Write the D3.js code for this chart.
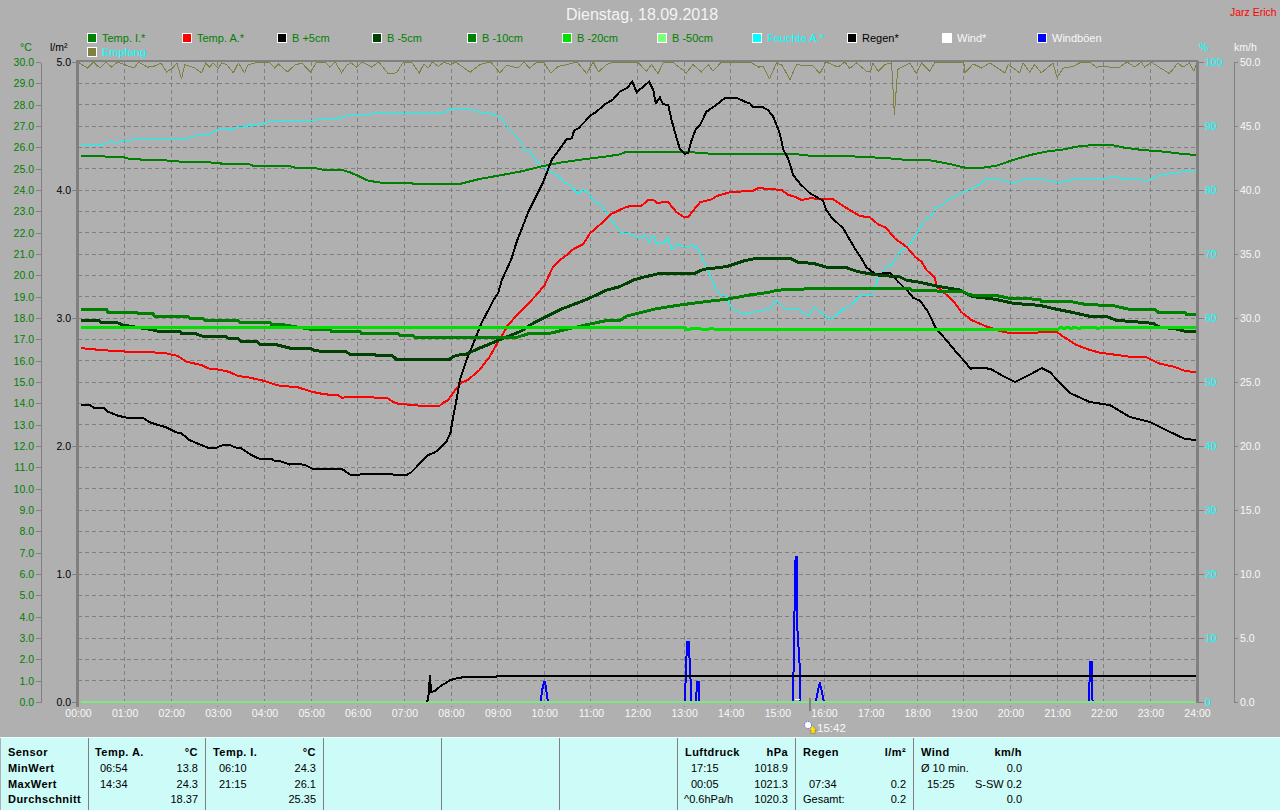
<!DOCTYPE html>
<html><head><meta charset="utf-8"><title>Wetter 18.09.2018</title>
<script src="https://cdn.jsdelivr.net/npm/d3@7/dist/d3.min.js"></script>
<style>html,body{margin:0;padding:0;background:#b0b0b0;overflow:hidden}svg{display:block}text{font-family:"Liberation Sans",Arial,sans-serif}</style>
</head><body><svg id="c" width="1280" height="810"></svg>
<script>
// ---------- data: [hour, value] ----------
const titleText = "Dienstag, 18.09.2018";
const authorText = "Jarz Erich";
const hourLabels = ["00:00","01:00","02:00","03:00","04:00","05:00","06:00","07:00","08:00","09:00","10:00","11:00","12:00","13:00","14:00","15:00","16:00","17:00","18:00","19:00","20:00","21:00","22:00","23:00","24:00"];
const legendNames = ["Temp. I.*","Temp. A.*","B +5cm","B -5cm","B -10cm","B -20cm","B -50cm","Feuchte A.*","Regen*","Wind*","Windböen"];
const sunsetTime = 15.7;
const sunsetLabel = "15:42";

const tempI = [[.07,25.59],[.57,25.59],[.59,25.55],[.96,25.55],[1.11,25.45],[1.32,25.45],[1.36,25.41],[1.89,25.41],[1.93,25.36],[2.14,25.36],[2.18,25.33],[2.82,25.33],[2.86,25.28],[3.06,25.28],[3.07,25.23],[3.65,25.23],[3.75,25.14],[4.5,25.14],[4.65,25.05],[5.04,25.05],[5.25,24.95],[5.65,24.95],[5.83,24.83],[5.97,24.7],[6.22,24.44],[6.5,24.34],[7.15,24.34],[7.18,24.3],[8.22,24.3],[8.62,24.52],[9.01,24.67],[9.48,24.86],[9.91,25.09],[10.34,25.28],[10.84,25.44],[11.3,25.56],[11.62,25.67],[11.77,25.8],[13.48,25.75],[13.52,25.7],[15.2,25.7],[15.63,25.64],[15.7,25.59],[16.34,25.59],[16.84,25.56],[17.48,25.47],[17.77,25.41],[18.23,25.41],[18.7,25.22],[19.02,25.05],[19.42,25.05],[19.7,25.14],[20.06,25.41],[20.42,25.64],[20.84,25.83],[21.09,25.88],[21.41,26.03],[21.77,26.11],[22.17,26.11],[22.45,25.98],[22.81,25.88],[23.28,25.8],[23.7,25.69],[24,25.64]];

const tempA = [[.07,16.59],[.18,16.56],[.39,16.52],[.68,16.47],[.96,16.45],[1.07,16.39],[1.82,16.38],[1.97,16.3],[2.14,16.22],[2.32,15.95],[2.64,15.8],[2.82,15.62],[3,15.59],[3.25,15.47],[3.43,15.28],[3.65,15.22],[4,15.05],[4.29,14.84],[4.72,14.75],[5,14.55],[5.29,14.42],[5.58,14.39],[5.65,14.27],[6.15,14.3],[6.65,14.23],[6.75,14.08],[6.9,13.95],[7.04,13.95],[7.33,13.89],[7.76,13.89],[7.83,14.03],[7.93,14.13],[8.08,14.59],[8.22,14.98],[8.36,15.09],[8.61,15.56],[8.83,16.19],[8.99,16.81],[9.1,17.2],[9.22,17.67],[9.55,18.45],[9.8,19],[10.01,19.55],[10.19,20.41],[10.34,20.72],[10.51,21],[10.62,21.22],[10.84,21.47],[10.98,21.97],[11.27,22.52],[11.44,22.88],[11.77,23.22],[12.09,23.27],[12.23,23.53],[12.34,23.53],[12.41,23.41],[12.66,23.42],[12.84,22.95],[12.98,22.75],[13.09,22.75],[13.34,23.42],[13.59,23.56],[13.7,23.72],[13.98,23.89],[14.48,23.97],[14.59,24.09],[15.09,24],[15.23,23.77],[15.37,23.69],[15.52,23.53],[15.7,23.61],[15.98,23.58],[16.2,23.56],[16.41,23.25],[16.77,22.78],[16.98,22.72],[17.16,22.39],[17.33,22.23],[17.52,21.73],[17.77,21.34],[17.95,20.88],[18.09,20.64],[18.2,20.25],[18.38,19.86],[18.42,19.47],[18.63,19.08],[18.81,18.69],[18.95,18.27],[19.16,17.91],[19.45,17.63],[19.77,17.39],[20.02,17.28],[20.49,17.28],[20.7,17.36],[20.99,17.36],[21.13,17.13],[21.42,16.73],[21.7,16.5],[21.91,16.38],[22.27,16.27],[22.63,16.16],[22.92,16.16],[23.17,15.88],[23.53,15.7],[23.74,15.52],[24,15.45]];

const soilPlus5 = [[.07,13.92],[.25,13.92],[.34,13.8],[.56,13.8],[.64,13.61],[.86,13.42],[1.04,13.33],[1.39,13.33],[1.54,13.11],[1.72,12.98],[1.89,12.88],[2.11,12.64],[2.22,12.59],[2.39,12.28],[2.57,12.11],[2.79,11.92],[2.97,11.92],[3.07,12.02],[3.25,12.06],[3.36,11.94],[3.5,11.89],[3.72,11.58],[3.9,11.39],[4.15,11.39],[4.22,11.3],[4.36,11.27],[4.54,11.13],[4.75,11.16],[4.9,11.08],[5.02,10.94],[5.65,10.94],[5.86,10.63],[6,10.63],[6.11,10.7],[6.72,10.7],[6.79,10.63],[7.04,10.63],[7.15,10.77],[7.51,11.58],[7.65,11.69],[7.76,11.89],[7.9,12.2],[7.99,12.63],[8.04,13.3],[8.11,14.08],[8.19,15.09],[8.33,16.03],[8.51,16.97],[8.65,17.75],[8.82,18.45],[8.91,18.84],[9.01,19.16],[9.09,19.78],[9.19,20.25],[9.3,20.8],[9.41,21.58],[9.48,21.97],[9.66,22.98],[9.84,23.77],[9.98,24.39],[10.16,25.41],[10.34,25.95],[10.48,26.38],[10.59,26.42],[10.64,26.78],[10.73,26.89],[10.87,27.2],[10.98,27.47],[11.12,27.67],[11.3,28.02],[11.48,28.25],[11.62,28.61],[11.77,28.77],[11.89,29.08],[11.98,28.58],[12.25,29.08],[12.34,28.69],[12.39,28.06],[12.48,28.34],[12.55,28.02],[12.66,27.98],[12.73,27.28],[12.84,26.42],[12.91,25.92],[13.02,25.69],[13.09,25.75],[13.16,26.34],[13.25,26.84],[13.34,27.05],[13.48,27.67],[13.66,27.94],[13.87,28.3],[14.12,28.33],[14.3,28.14],[14.41,28.06],[14.47,27.91],[14.66,27.91],[14.8,27.75],[14.91,27.44],[15.05,26.66],[15.13,25.88],[15.23,25.48],[15.34,24.7],[15.48,24.31],[15.7,23.84],[15.98,23.5],[16.05,23.06],[16.16,22.72],[16.41,22.2],[16.66,21.27],[16.8,20.8],[16.91,20.38],[17.13,20.02],[17.31,20.13],[17.41,20.13],[17.59,19.7],[17.81,19.23],[17.91,18.95],[18.06,18.81],[18.23,18.3],[18.41,17.47],[18.59,17.05],[18.77,16.58],[18.84,16.38],[18.99,16.03],[19.14,15.63],[19.45,15.66],[19.59,15.59],[19.8,15.33],[20.1,15],[20.4,15.33],[20.67,15.65],[20.85,15.45],[21,15.1],[21.27,14.49],[21.7,14.06],[22.13,13.92],[22.56,13.36],[22.99,13.13],[23.42,12.66],[23.74,12.33],[24,12.28]];

const soilMinus5 = [[.07,17.89],[.43,17.89],[.5,17.8],[.82,17.8],[.96,17.67],[1.54,17.47],[1.72,17.38],[2.18,17.38],[2.22,17.28],[2.5,17.28],[2.72,17.11],[3.18,17.11],[3.25,17.02],[3.43,17.02],[3.5,16.91],[3.82,16.91],[3.9,16.77],[4.22,16.77],[4.36,16.69],[4.54,16.59],[5,16.58],[5.04,16.5],[5.29,16.41],[5.75,16.41],[5.83,16.31],[6.36,16.31],[6.4,16.22],[6.75,16.22],[6.83,16.06],[7.97,16.06],[8.04,16.19],[8.18,16.27],[8.33,16.31],[8.58,16.56],[8.83,16.78],[8.99,16.93],[9.48,17.36],[9.76,17.75],[10.37,18.42],[10.84,18.81],[11.12,19.08],[11.34,19.31],[11.62,19.47],[11.91,19.78],[12.12,19.91],[12.48,20.09],[13.23,20.09],[13.41,20.28],[13.91,20.41],[14.3,20.69],[14.55,20.8],[15.27,20.8],[15.45,20.61],[15.77,20.56],[16.05,20.39],[16.45,20.38],[16.73,20.17],[17.13,20.02],[17.63,19.92],[17.77,19.77],[18.06,19.67],[18.41,19.5],[18.91,19.31],[19.2,19],[19.67,18.88],[20.06,18.69],[20.63,18.59],[20.99,18.41],[21.31,18.27],[21.7,18.08],[22.09,18.05],[22.27,17.89],[22.63,17.83],[23.06,17.75],[23.17,17.59],[23.56,17.48],[23.74,17.38],[24,17.38]];

const soilMinus10 = [[.07,18.41],[.61,18.41],[.64,18.28],[1.25,18.28],[1.29,18.19],[1.61,18.19],[1.64,18.09],[2.36,18.09],[2.39,18],[2.68,18],[2.72,17.89],[3.43,17.89],[3.47,17.8],[4.11,17.8],[4.15,17.7],[4.36,17.7],[5,17.47],[5.4,17.47],[5.43,17.38],[6.04,17.38],[6.08,17.28],[6.86,17.28],[6.9,17.2],[7.18,17.2],[7.23,17.08],[9.41,17.09],[9.69,17.28],[10.12,17.28],[10.48,17.47],[10.98,17.72],[11.34,17.88],[11.62,17.88],[11.77,18.09],[12.37,18.42],[12.91,18.61],[13.48,18.77],[13.91,18.88],[14.41,19.08],[14.8,19.2],[15.02,19.31],[15.48,19.33],[15.66,19.39],[17.84,19.39],[17.88,19.3],[18.99,19.23],[19.13,19.08],[19.7,19.05],[19.99,18.92],[20.63,18.88],[20.66,18.78],[21.27,18.78],[21.63,18.63],[22.2,18.58],[22.52,18.42],[23.09,18.42],[23.17,18.27],[23.74,18.27],[23.77,18.17],[24,18.17]];

const soilMinus20 = [[.07,17.57],[13.02,17.57],[13.05,17.47],[13.12,17.47],[13.17,17.53],[13.3,17.53],[13.38,17.47],[13.5,17.47],[13.58,17.5],[13.68,17.47],[21.02,17.47],[21.07,17.57],[21.15,17.5],[21.22,17.57],[21.3,17.5],[21.38,17.57],[21.46,17.5],[21.55,17.57],[21.8,17.57],[21.88,17.5],[21.98,17.57],[24,17.57]];

const soilMinus50 = [[.07,0],[24,0]];

const humidity = [[.07,86.92],[.5,86.92],[.61,87.39],[.71,87.6],[.82,87.39],[.93,87.6],[1.07,87.76],[1.29,87.91],[2.32,87.91],[2.43,88.33],[2.61,88.7],[2.82,88.7],[2.97,89.37],[3.15,89.63],[3.25,89.37],[3.32,89.63],[3.61,89.84],[3.68,90.31],[3.79,90.15],[3.9,90.41],[3.93,90.15],[4,90.57],[4.36,90.83],[5.08,90.83],[5.15,91.2],[5.25,91.04],[5.5,91.04],[5.58,91.3],[5.65,91.2],[5.75,91.56],[6,91.77],[6.4,91.92],[7.83,91.92],[7.97,92.6],[8.11,92.81],[8.36,92.81],[8.54,92.39],[8.62,92.14],[8.83,92.08],[9.09,91.2],[9.23,89.64],[9.37,88.59],[9.48,87.81],[9.56,86.25],[9.69,86.09],[9.84,84.43],[9.98,83.65],[10.12,82.86],[10.3,82.24],[10.44,81.15],[10.55,80.78],[10.73,79.38],[10.84,80.1],[10.94,79.48],[11.05,78.33],[11.19,77.92],[11.34,76.35],[11.48,74.9],[11.66,73.23],[11.8,73.23],[12.05,72.45],[12.16,72.97],[12.25,71.93],[12.34,72.86],[12.41,71.56],[12.55,71.67],[12.66,72.45],[12.74,70.63],[12.84,71.56],[12.98,71.15],[13.19,71.3],[13.3,70.89],[13.41,69.06],[13.55,66.72],[13.73,63.85],[13.91,63.33],[14.02,61.41],[14.3,60.6],[14.84,61.4],[14.98,62.8],[15.16,61.4],[15.48,61.25],[15.66,60.31],[15.77,61.61],[15.84,61.51],[15.95,60.73],[16.14,59.79],[16.27,60.47],[16.41,61.51],[16.52,61.61],[16.7,62.81],[16.77,63.59],[16.98,63.44],[17.07,64.22],[17.16,66.2],[17.34,68.02],[17.45,68.28],[17.66,70.63],[17.81,71.15],[17.95,72.71],[18.16,75.31],[18.31,76.09],[18.41,77.4],[18.56,77.66],[18.66,78.54],[18.99,79.74],[19.27,80.52],[19.45,81.56],[19.74,81.72],[20.06,81.04],[20.24,81.56],[20.63,81.72],[21.02,81.15],[21.42,81.72],[22.34,81.93],[22.45,81.56],[22.77,81.82],[22.92,81.3],[23.09,82.08],[23.49,82.71],[23.99,83.02]];

const reception = [[0,100],[.2,99.05],[.33,100],[.47,99.05],[.6,100],[.72,99.2],[.85,100],[1.14,99.2],[1.22,99.2],[1.3,100],[1.49,99.2],[1.62,99.3],[1.78,99.85],[1.9,98.45],[2.03,99.05],[2.12,99.85],[2.22,97.35],[2.29,99.6],[2.51,99.05],[2.65,98.3],[2.74,99.85],[2.82,99.2],[2.9,99.85],[3.01,99.05],[3.08,99.85],[3.19,99.6],[3.33,98.3],[3.44,99.85],[3.57,98.3],[3.65,99.6],[3.8,99.85],[3.97,100],[4.1,100],[4.22,99.05],[4.3,99.7],[4.49,98.45],[4.65,99.5],[4.8,99.85],[4.99,98.4],[5.12,100],[5.3,100],[5.4,99.2],[5.52,100],[5.65,98.3],[5.76,99.45],[5.85,99.9],[5.98,99.2],[6.1,100],[6.3,99.2],[6.45,100],[6.65,98.2],[6.83,98.3],[6.98,100],[7.15,100],[7.32,98.3],[7.42,99.7],[7.51,99.05],[7.6,100],[7.73,99.3],[7.85,100],[7.98,99.6],[8.1,100],[8.41,98.4],[8.62,99.6],[8.85,100],[9.05,98.3],[9.19,99.5],[9.44,99.05],[9.57,100],[9.68,99.05],[9.85,100],[9.98,100],[10.14,98.3],[10.3,99.3],[10.48,99.6],[10.7,100],[10.91,98.2],[11.05,100],[11.16,98.45],[11.34,99.6],[11.48,100],[12,100],[12.19,98.55],[12.3,99.6],[12.44,98.2],[12.55,99.85],[12.75,100],[13.05,98.3],[13.19,99.6],[13.37,98.45],[13.52,99.6],[13.62,98.55],[13.8,100],[13.98,100],[14.3,100],[14.45,99.85],[14.6,99.2],[14.7,99.3],[14.83,97.35],[14.98,99.85],[15.1,99.5],[15.27,97.25],[15.41,99.6],[15.6,99.4],[15.75,99.5],[15.91,98.2],[16.05,100],[16.3,99.2],[16.45,100],[16.55,99],[16.7,99.85],[16.91,98.55],[17,98.55],[17.05,99.85],[17.16,98.55],[17.31,99.6],[17.45,99.85],[17.51,91.75],[17.58,98.8],[17.63,99.05],[17.84,99.85],[17.98,98.2],[18.09,99.85],[18.27,98.55],[18.38,100],[19,100],[19.02,98.3],[19.2,99.7],[19.38,99.05],[19.56,99.85],[19.88,98.3],[19.95,99.6],[20.2,98.3],[20.27,99.85],[20.41,98.45],[20.52,99.6],[20.66,98.3],[20.91,99.85],[21,97.6],[21.13,99.05],[21.34,99.3],[21.52,100],[21.7,100],[21.84,99.2],[22.02,99.3],[22.31,99.05],[22.5,100],[22.67,99.2],[22.8,100],[22.88,99.2],[23.02,100],[23.16,99.3],[23.41,98.2],[23.59,99.85],[23.7,99.2],[23.84,99.85],[23.93,98.55],[24,100]];

const rain = [[7.49,0],[7.52,.06],[7.55,.21],[7.57,.08],[7.66,.085],[7.76,.12],[7.98,.17],[8.12,.185],[8.34,.198],[8.98,.198],[9,.205],[24,.205]];
const wind = [[15.38,.2],[15.49,.2]];
const gusts = [[9.92,0],[9.96,1],[9.99,1.54],[10.02,1.54],[10.08,0],[13.02,0],[13.03,1.54],[13.05,3.54],[13.07,4.71],[13.1,4.71],[13.12,3.04],[13.14,1.59],[13.15,0],[13.25,0],[13.28,1.54],[13.32,1.54],[13.33,0],[15.34,0],[15.35,3.75],[15.37,7.58],[15.39,11.3],[15.42,11.3],[15.43,5.63],[15.48,2.76],[15.49,0],[15.82,0],[15.91,1.54],[16,0],[21.68,0],[21.71,3.1],[21.74,3.1],[21.76,0]];

const sensorRows = ["Sensor","MinWert","MaxWert","Durchschnitt"];
const tempAHead = ["Temp. A.","°C"], tempATimes = ["06:54","14:34",""], tempAVals = ["13.8","24.3","18.37"];
const tempIHead = ["Temp. I.","°C"], tempITimes = ["06:10","21:15",""], tempIVals = ["24.3","26.1","25.35"];
const pressHead = ["Luftdruck","hPa"], pressTimes = ["17:15","00:05",""], pressNote = "^0.6hPa/h", pressVals = ["1018.9","1021.3","1020.3"];
const rainHead = ["Regen","l/m²"], rainTimes = ["","07:34",""], rainNote = "Gesamt:", rainVals = ["","0.2","0.2"];
const windHead = ["Wind","km/h"], windNote = "Ø 10 min.", windTimes = ["","15:25",""], windVals = ["0.0","S-SW 0.2","0.0"];

// ---------- scales ----------
const L=78,R=1197,T=62,B=702;
const x = d3.scaleLinear().domain([0,24]).range([L,R]);
const yTemp = d3.scaleLinear().domain([0,30]).range([B,T]);
const yRain = d3.scaleLinear().domain([0,5]).range([B,T]);
const yPct  = d3.scaleLinear().domain([0,100]).range([B,T]);
const yWind = d3.scaleLinear().domain([0,50]).range([B,T]);

const svg = d3.select("#c");
const GRAY="#808080", BG="#b0b0b0", GREEN="#008000", CYAN="#00ffff", WHITE="#f8f8f8";
svg.append("rect").attr("width",1280).attr("height",810).attr("fill",BG);

function label(t,px,py,opt={}){
  return svg.append("text").text(t).attr("x",px).attr("y",py)
    .attr("fill",opt.fill||"#000").attr("font-size",opt.size||10.5)
    .attr("font-weight",opt.bold?"bold":"normal")
    .attr("letter-spacing",opt.bold?0.45:null)
    .attr("text-anchor",opt.anchor||"start");
}

// ---------- grid ----------
const grid = svg.append("g").attr("stroke",GRAY).attr("stroke-dasharray","4,3").attr("shape-rendering","crispEdges");
grid.selectAll("line.v").data(d3.range(1,24)).join("line").attr("class","v")
  .attr("x1",d=>x(d)).attr("x2",d=>x(d)).attr("y1",T).attr("y2",B+5);
grid.selectAll("line.h").data(d3.range(1,30)).join("line").attr("class","h")
  .attr("x1",L).attr("x2",R).attr("y1",d=>yTemp(d)).attr("y2",d=>yTemp(d));

// ---------- series (paint order of the reference) ----------
function series(data,scale,color,width){
  const line=d3.line().x(d=>x(d[0])).y(d=>scale(d[1]));
  svg.append("path").datum(data).attr("d",line).attr("fill","none")
    .attr("stroke",color).attr("stroke-width",width).attr("stroke-linejoin","miter")
    .attr("stroke-miterlimit",2).attr("shape-rendering","crispEdges");
}
series(reception,yPct,"#808040",1);
series(humidity,yPct,CYAN,1);
series(gusts,yWind,"#0000ff",2);
series(wind,yWind,"#ffffff",1);
series(tempI,yTemp,GREEN,2);
series(tempA,yTemp,"#ff0000",2);
series(soilPlus5,yTemp,"#000000",2);
series(soilMinus5,yTemp,"#004000",3);
series(soilMinus10,yTemp,GREEN,3);
series(soilMinus20,yTemp,"#00e000",3);
series(soilMinus50,yTemp,"#80e880",2);
series(rain,yRain,"#000000",2);

// ---------- frame ----------
const frame=svg.append("g").attr("stroke",GRAY).attr("shape-rendering","crispEdges");
frame.append("line").attr("x1",L-1).attr("x2",L-1).attr("y1",T-1).attr("y2",B+5).attr("stroke-width",3);
frame.append("line").attr("x1",R).attr("x2",R).attr("y1",T-1).attr("y2",B+1).attr("stroke-width",3);
frame.append("line").attr("x1",L-2).attr("x2",R+1).attr("y1",T-1).attr("y2",T-1).attr("stroke-width",2);

// ---------- axes ----------
function styleAxis(g,color,keepDomain){
  g.attr("font-family",null).attr("font-size",null);
  g.selectAll("text").attr("fill",color).attr("font-size",10.5);
  g.selectAll("line").attr("stroke",GRAY).attr("shape-rendering","crispEdges");
  if(keepDomain) g.select(".domain").attr("stroke",GRAY).attr("shape-rendering","crispEdges");
  else g.select(".domain").remove();
}
svg.append("g").attr("transform","translate(41,0)")
  .call(d3.axisLeft(yTemp).tickValues(d3.range(0,31)).tickFormat(d3.format(".1f")).tickSize(5).tickSizeOuter(0).tickPadding(2))
  .call(g=>styleAxis(g,GREEN,true));
svg.append("g").attr("transform",`translate(${L-1},0)`)
  .call(d3.axisLeft(yRain).tickValues(d3.range(0,6)).tickFormat(d3.format(".1f")).tickSize(5).tickPadding(1))
  .call(g=>styleAxis(g,"#000",false));
svg.append("g").attr("transform",`translate(${R},0)`)
  .call(d3.axisRight(yPct).tickValues(d3.range(0,101,10)).tickSize(7).tickPadding(1))
  .call(g=>styleAxis(g,CYAN,false));
svg.append("g").attr("transform","translate(1234,0)")
  .call(d3.axisRight(yWind).tickValues(d3.range(0,51,5)).tickFormat(d3.format(".1f")).tickSize(4).tickSizeOuter(0).tickPadding(2))
  .call(g=>styleAxis(g,WHITE,true));
svg.append("g").attr("transform",`translate(0,${B+5})`)
  .call(d3.axisBottom(x).tickValues(d3.range(0,25)).tickFormat((d,i)=>hourLabels[i]).tickSize(0).tickPadding(3))
  .call(g=>styleAxis(g,WHITE,false));

label("°C",20,51,{fill:GREEN});
label("l/m²",50,51);
label("%",1199,51,{fill:CYAN});
label("km/h",1234,51,{fill:WHITE});

// ---------- title + legend ----------
label(titleText,642,20,{fill:"#f4f4f4",size:16,anchor:"middle"});
label(authorText,1230,16,{fill:"#ff0000",size:10.5});
const legendColors=[GREEN,"#ff0000","#000","#004000",GREEN,"#00e000","#80ff80",CYAN,"#000","#fff","#0000ff"];
const legendText=[GREEN,GREEN,GREEN,GREEN,GREEN,GREEN,GREEN,CYAN,"#000",WHITE,WHITE];
legendNames.forEach((n,i)=>{
  const lx=87+i*95;
  svg.append("rect").attr("x",lx+.5).attr("y",33.5).attr("width",9).attr("height",9).attr("fill",legendColors[i]).attr("stroke","#fff").attr("shape-rendering","crispEdges");
  label(n,lx+15,42,{fill:legendText[i],size:11});
});
svg.append("rect").attr("x",87.5).attr("y",47.5).attr("width",9).attr("height",9).attr("fill","#808040").attr("stroke","#fff").attr("shape-rendering","crispEdges");
label("Empfang",102,56,{fill:CYAN,size:11});

// ---------- sunset marker ----------
svg.append("line").attr("x1",x(sunsetTime)).attr("x2",x(sunsetTime)).attr("y1",B-4).attr("y2",B+9).attr("stroke",GRAY).attr("stroke-width",2).attr("shape-rendering","crispEdges");
svg.append("circle").attr("cx",x(sunsetTime)-2).attr("cy",725).attr("r",3.5).attr("fill","#fff").attr("stroke","#3030c0").attr("stroke-width",.8).attr("stroke-dasharray","1,1");
svg.append("path").attr("d",d3.line()([[x(sunsetTime)+3,726],[x(sunsetTime)+6.5,730],[x(sunsetTime)+5,730],[x(sunsetTime)+5,733.5],[x(sunsetTime)+1,733.5],[x(sunsetTime)+1,730],[x(sunsetTime)-.5,730]])).attr("fill","#ffe000").attr("stroke","#404000").attr("stroke-width",.3);
label(sunsetLabel,817,732,{fill:WHITE,size:11.5});

// ---------- table ----------
svg.append("rect").attr("x",1).attr("y",737).attr("width",1279).attr("height",73).attr("fill","#ccfbf8");
svg.append("line").attr("x1",0).attr("x2",1280).attr("y1",737.5).attr("y2",737.5).attr("stroke","#e8ffff");
[88,205,323,441,559,677,795,913].forEach(sx=>svg.append("line").attr("x1",sx+.5).attr("x2",sx+.5).attr("y1",738).attr("y2",810).attr("stroke",GRAY));
const rowY=[756,772,788,803];
const cell={size:11};
sensorRows.forEach((t,i)=>label(t,8,rowY[i],{bold:true,size:11}));
function column(head,times,vals,xHead,xTime,xVal){
  label(head[0],xHead,rowY[0],{bold:true,size:11});
  label(head[1],xVal,rowY[0],{bold:true,size:11,anchor:"end"});
  times.forEach((t,i)=>t&&label(t,xTime,rowY[i+1],cell));
  vals.forEach((v,i)=>v&&label(v,xVal,rowY[i+1],{size:11,anchor:"end"}));
}
column(tempAHead,tempATimes,tempAVals,95,100,198);
column(tempIHead,tempITimes,tempIVals,213,219,316);
column(pressHead,pressTimes,pressVals,685,691,788);
label(pressNote,684,rowY[3],cell);
column(rainHead,rainTimes,rainVals,803,809,906);
label(rainNote,803,rowY[3],cell);
column(windHead,windTimes,windVals,921,927,1022);
label(windNote,921,rowY[1],cell);
</script></body></html>
